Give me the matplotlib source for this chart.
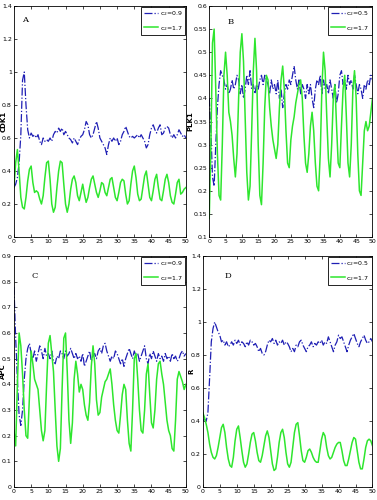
import numpy as np
import matplotlib
matplotlib.use("Agg")
import matplotlib.pyplot as plt

cdk1_low = [0.30, 0.32, 0.36, 0.45, 0.62, 0.95, 1.00, 0.80, 0.65, 0.60,
            0.63, 0.61, 0.62, 0.60, 0.62, 0.58, 0.56, 0.60, 0.58, 0.59,
            0.58, 0.60, 0.58, 0.62, 0.64, 0.63, 0.66, 0.64, 0.66, 0.62,
            0.64, 0.62, 0.60, 0.59, 0.57, 0.60, 0.58, 0.56, 0.59, 0.61,
            0.62, 0.65, 0.70, 0.68, 0.62, 0.60, 0.62, 0.66, 0.70, 0.66,
            0.60, 0.58, 0.56, 0.54, 0.50, 0.56, 0.60, 0.58, 0.60, 0.58,
            0.60, 0.56, 0.58, 0.62, 0.64, 0.67, 0.64, 0.61, 0.60, 0.61,
            0.60, 0.61, 0.62, 0.60, 0.62, 0.60, 0.58, 0.54, 0.56, 0.62,
            0.66, 0.68, 0.65, 0.63, 0.66, 0.68, 0.62, 0.63, 0.66, 0.67,
            0.66, 0.62, 0.60, 0.62, 0.60, 0.62, 0.65, 0.63, 0.61, 0.62, 0.60]
cdk1_high = [0.30, 0.45, 0.53, 0.40, 0.24, 0.18, 0.17, 0.24, 0.34, 0.41,
             0.43, 0.33, 0.27, 0.28, 0.27, 0.23, 0.20, 0.25, 0.36, 0.45,
             0.46, 0.35, 0.20, 0.15, 0.18, 0.30, 0.40, 0.46, 0.45, 0.32,
             0.20, 0.15, 0.20, 0.29, 0.35, 0.37, 0.33, 0.25, 0.22, 0.27,
             0.32, 0.26, 0.21, 0.24, 0.30, 0.35, 0.37, 0.32, 0.27, 0.24,
             0.28, 0.33, 0.32, 0.27, 0.25, 0.30, 0.35, 0.36, 0.30, 0.24,
             0.22, 0.27, 0.33, 0.35, 0.34, 0.26, 0.20, 0.22, 0.32, 0.40,
             0.43, 0.36, 0.26, 0.22, 0.23, 0.30, 0.37, 0.40, 0.32, 0.24,
             0.22, 0.28, 0.35, 0.38, 0.30, 0.23, 0.22, 0.28, 0.35, 0.38,
             0.33, 0.25, 0.21, 0.20, 0.26, 0.33, 0.35, 0.26, 0.27, 0.29, 0.30]

plk1_low = [0.40, 0.33, 0.23, 0.21, 0.30, 0.38, 0.43, 0.46, 0.45, 0.44,
            0.42, 0.43, 0.41, 0.42, 0.44, 0.42, 0.43, 0.45, 0.44, 0.41,
            0.43, 0.40, 0.42, 0.45, 0.43, 0.46, 0.42, 0.43, 0.41, 0.43,
            0.42, 0.44, 0.45, 0.43, 0.45, 0.44, 0.43, 0.41, 0.44, 0.42,
            0.43, 0.41, 0.44, 0.40, 0.42, 0.38, 0.41, 0.43, 0.42, 0.44,
            0.43, 0.45, 0.47, 0.44, 0.42, 0.44, 0.41, 0.43, 0.42, 0.40,
            0.43, 0.41, 0.43, 0.40, 0.38, 0.42, 0.44, 0.43, 0.45, 0.41,
            0.44, 0.42, 0.43, 0.41, 0.44, 0.42, 0.40, 0.43, 0.39, 0.41,
            0.45, 0.46, 0.43, 0.44, 0.42, 0.45, 0.43, 0.44, 0.42, 0.45,
            0.43, 0.41, 0.43, 0.42, 0.40, 0.43, 0.42, 0.44, 0.43, 0.45, 0.44]
plk1_high = [0.14, 0.30, 0.52, 0.55, 0.42, 0.28, 0.19, 0.18, 0.30, 0.45,
             0.50, 0.45, 0.37, 0.35, 0.32, 0.27, 0.23, 0.28, 0.40, 0.50,
             0.54, 0.48, 0.36, 0.24, 0.18, 0.21, 0.33, 0.46, 0.53, 0.46,
             0.30, 0.19, 0.17, 0.26, 0.38, 0.45, 0.44, 0.38, 0.34, 0.31,
             0.29, 0.27, 0.30, 0.38, 0.44, 0.47, 0.42, 0.33, 0.26, 0.25,
             0.31, 0.34, 0.36, 0.39, 0.41, 0.43, 0.44, 0.40, 0.32, 0.26,
             0.24, 0.28, 0.34, 0.37, 0.33, 0.26, 0.21, 0.20, 0.28, 0.42,
             0.50, 0.46, 0.36, 0.27, 0.23, 0.30, 0.40, 0.43, 0.34, 0.26,
             0.25, 0.34, 0.42, 0.45, 0.36, 0.26, 0.23, 0.30, 0.42, 0.46,
             0.40, 0.28, 0.20, 0.19, 0.26, 0.33, 0.35, 0.33, 0.34, 0.37, 0.40]

apc_low = [0.78, 0.58, 0.42, 0.28, 0.24, 0.30, 0.42, 0.50, 0.54, 0.56,
           0.52, 0.50, 0.53, 0.49, 0.52, 0.55, 0.53, 0.50, 0.54, 0.51,
           0.52, 0.50, 0.53, 0.49, 0.48, 0.51, 0.50, 0.53, 0.52, 0.50,
           0.53, 0.51, 0.52, 0.54, 0.52, 0.50, 0.52, 0.50, 0.51, 0.49,
           0.52, 0.47, 0.49, 0.51, 0.53, 0.49, 0.51, 0.52, 0.50, 0.53,
           0.54, 0.52, 0.55, 0.56, 0.53, 0.51, 0.49, 0.51, 0.50, 0.53,
           0.52, 0.50, 0.48, 0.50, 0.47, 0.50, 0.52, 0.54, 0.52, 0.50,
           0.53, 0.51, 0.52, 0.49, 0.51, 0.53, 0.55, 0.50, 0.48, 0.52,
           0.50, 0.53, 0.51, 0.49, 0.52, 0.50, 0.51, 0.49, 0.52, 0.50,
           0.51, 0.49, 0.52, 0.50, 0.51, 0.49, 0.50, 0.52, 0.53, 0.51, 0.52]
apc_high = [0.22, 0.16, 0.40, 0.60, 0.55, 0.44, 0.30, 0.20, 0.19, 0.35,
            0.53, 0.48, 0.42, 0.40, 0.38, 0.30, 0.22, 0.18, 0.22, 0.40,
            0.56, 0.59, 0.52, 0.45, 0.30, 0.16, 0.10, 0.15, 0.38, 0.58,
            0.60, 0.45, 0.26, 0.17, 0.25, 0.42, 0.49, 0.44, 0.37, 0.40,
            0.38, 0.32, 0.28, 0.26, 0.33, 0.47, 0.55, 0.48, 0.34, 0.28,
            0.29, 0.35, 0.38, 0.41, 0.42, 0.44, 0.46, 0.40, 0.32, 0.26,
            0.22, 0.21, 0.28, 0.36, 0.40, 0.38, 0.26, 0.17, 0.14, 0.30,
            0.50, 0.52, 0.42, 0.30, 0.22, 0.21, 0.30, 0.44, 0.48, 0.36,
            0.25, 0.23, 0.30, 0.42, 0.48, 0.49, 0.44, 0.40, 0.33, 0.26,
            0.22, 0.20, 0.15, 0.14, 0.26, 0.42, 0.45, 0.43, 0.41, 0.38, 0.40]

r_low = [0.40, 0.41, 0.40, 0.45, 0.66, 0.88, 0.96, 1.00, 0.97, 0.94,
         0.92, 0.88, 0.89, 0.86, 0.88, 0.85, 0.86, 0.88, 0.86, 0.89,
         0.87, 0.89, 0.86, 0.88, 0.87, 0.85, 0.88, 0.86, 0.89, 0.88,
         0.86, 0.87, 0.85, 0.82, 0.84, 0.81, 0.80, 0.82, 0.86, 0.89,
         0.88, 0.90, 0.87, 0.89, 0.86, 0.88, 0.87, 0.89, 0.86, 0.88,
         0.87, 0.85, 0.82, 0.84, 0.82, 0.86, 0.85, 0.88, 0.89, 0.86,
         0.84, 0.82, 0.85, 0.86, 0.88, 0.85, 0.87, 0.86, 0.88, 0.87,
         0.89, 0.86, 0.88, 0.87, 0.91, 0.88, 0.85, 0.82, 0.86, 0.88,
         0.92, 0.90, 0.91, 0.88, 0.85, 0.82, 0.86, 0.89, 0.91, 0.93,
         0.90, 0.87, 0.85, 0.88, 0.90, 0.92, 0.89, 0.87, 0.88, 0.90, 0.88]
r_high = [0.45, 0.42, 0.38, 0.33, 0.26, 0.21, 0.18, 0.17, 0.19, 0.24,
          0.30, 0.36, 0.38, 0.33, 0.24, 0.17, 0.13, 0.12, 0.18, 0.28,
          0.35, 0.37, 0.30, 0.22, 0.15, 0.12, 0.14, 0.20, 0.27, 0.32,
          0.33, 0.28, 0.21, 0.16, 0.15, 0.19, 0.25, 0.31, 0.34, 0.30,
          0.22, 0.14, 0.10, 0.11, 0.18, 0.27, 0.33, 0.35, 0.30, 0.21,
          0.14, 0.12, 0.15, 0.24, 0.33, 0.38, 0.39, 0.31, 0.22, 0.16,
          0.15, 0.18, 0.22, 0.23, 0.21, 0.18, 0.16, 0.15, 0.15, 0.22,
          0.29, 0.33, 0.31, 0.24, 0.19, 0.17, 0.18, 0.21, 0.24, 0.26,
          0.27, 0.27, 0.22, 0.16, 0.13, 0.13, 0.17, 0.22, 0.27, 0.30,
          0.29, 0.22, 0.15, 0.11, 0.11, 0.17, 0.24, 0.28, 0.29, 0.28, 0.25]

panels = [
    # letter, ylabel, low series, high series, low label, high label, ylim, yticks
    ("A", "CDK1", cdk1_low, cdk1_high, "c$_2$=0.9", "c$_2$=1.7", (0, 1.4), np.arange(0, 1.41, 0.2)),
    ("B", "PLK1", plk1_low, plk1_high, "c$_2$=0.5", "c$_2$=1.7", (0.1, 0.6), np.arange(0.1, 0.601, 0.05)),
    ("C", "APC", apc_low, apc_high, "c$_2$=0.9", "c$_2$=1.7", (0, 0.9), np.arange(0, 0.91, 0.1)),
    ("D", "R", r_low, r_high, "c$_2$=0.5", "c$_2$=1.7", (0, 1.4), np.arange(0, 1.41, 0.2)),
]

boxes = [
    [0.037, 0.526, 0.456, 0.462],
    [0.555, 0.526, 0.433, 0.462],
    [0.037, 0.026, 0.456, 0.462],
    [0.538, 0.026, 0.450, 0.462],
]
letter_pos = [(0.05, 0.955), (0.11, 0.95), (0.10, 0.93), (0.13, 0.93)]
ylabel_x = [-0.045, -0.10, -0.045, -0.05]

fig = plt.figure(figsize=(3.77, 5.0), dpi=100)

for i, (letter, ylab, low, high, lab_low, lab_high, ylim, yticks) in enumerate(panels):
    ax = fig.add_axes(boxes[i])
    t_low = np.linspace(0, 50, len(low))
    t_high = np.linspace(0, 50, len(high))
    ax.plot(t_low, low, "-.", color="#1f1fb4", linewidth=0.9, label=lab_low)
    ax.plot(t_high, high, "-", color="#2ee62e", linewidth=1.1, label=lab_high)
    ax.set_xlim(0, 50)
    ax.set_ylim(*ylim)
    ax.set_xticks(np.arange(0, 51, 5))
    ax.set_yticks(yticks)
    ax.set_yticklabels([("%g" % v) for v in np.round(yticks, 2)])
    ax.tick_params(direction="in", length=2, width=0.5, labelsize=4.5, pad=1.5,
                   top=True, right=True)
    for s in ax.spines.values():
        s.set_linewidth(0.6)
    ax.set_ylabel(ylab, fontsize=5, fontweight="bold")
    ax.yaxis.set_label_coords(ylabel_x[i], 0.5)
    ax.text(letter_pos[i][0], letter_pos[i][1], letter, transform=ax.transAxes,
            fontsize=6, family="serif", va="top")
    leg = ax.legend(loc="upper right", fontsize=4.5, handlelength=2.2,
                    borderpad=0.4, labelspacing=0.9, handletextpad=0.3,
                    fancybox=False, framealpha=1, borderaxespad=0.1)
    leg.get_frame().set_edgecolor("black")
    leg.get_frame().set_linewidth(0.6)

fig.savefig("out.png", dpi=100)
